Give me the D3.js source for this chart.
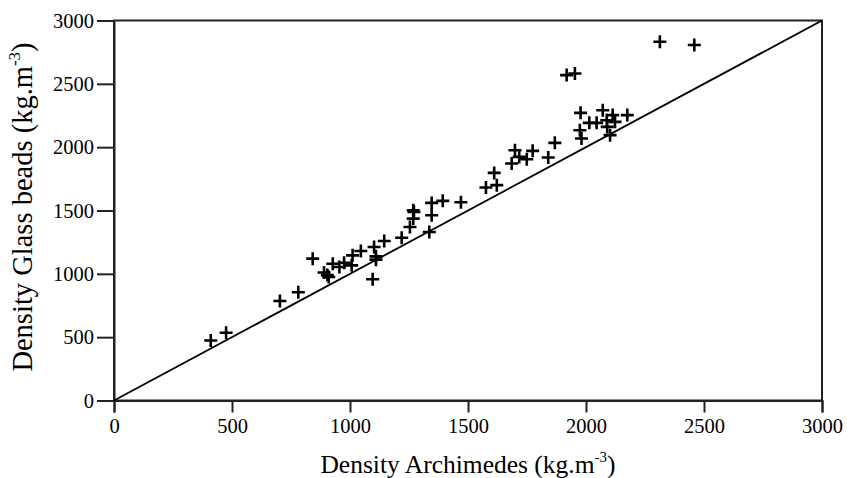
<!DOCTYPE html>
<html><head><meta charset="utf-8">
<script src="https://cdn.jsdelivr.net/npm/d3@7"></script>
<style>body{margin:0;background:#fff}svg{display:block}text{font-family:"Liberation Serif","Times New Roman",serif;fill:#000}</style>
</head><body>
<svg id="c" width="847" height="478"></svg>
<script>
const archimedes = [410,475,703,781,842,890,904,910,927,955,975,1007,1011,1046,1096,1102,1110,1110,1145,1219,1254,1268,1268,1271,1336,1346,1346,1393,1470,1576,1611,1622,1685,1699,1717,1749,1774,1840,1868,1918,1953,1974,1977,1981,2014,2045,2071,2088,2090,2102,2113,2123,2175,2313,2459];
const glassBeads = [474,535,785,855,1120,1010,990,975,1080,1054,1088,1067,1146,1180,957,1212,1138,1112,1259,1285,1370,1436,1502,1488,1330,1462,1560,1576,1565,1681,1797,1700,1871,1976,1923,1905,1971,1918,2034,2569,2582,2134,2271,2069,2192,2192,2292,2213,2160,2095,2253,2200,2253,2832,2806];
const xTicks = [0,500,1000,1500,2000,2500,3000];
const yTicks = [0,500,1000,1500,2000,2500,3000];
const xTitle = "Density Archimedes (kg.m";
const yTitle = "Density Glass beads (kg.m";

const svg = d3.select("#c");
const L=114, R=822, T=20.5, B=400.5;
const x = d3.scaleLinear().domain([0,3000]).range([L,R]);
const y = d3.scaleLinear().domain([0,3000]).range([B,T]);

svg.append("rect").attr("x",L).attr("y",T).attr("width",R-L).attr("height",B-T)
  .attr("fill","none").attr("stroke","#222").attr("stroke-width",2);

const xa = svg.append("g").attr("transform",`translate(0,${B})`)
  .call(d3.axisBottom(x).tickValues(xTicks).tickSize(12).tickPadding(6).tickFormat(d3.format("d")));
const ya = svg.append("g").attr("transform",`translate(${L},0)`)
  .call(d3.axisLeft(y).tickValues(yTicks).tickSize(17).tickPadding(3).tickFormat(d3.format("d")));
[xa,ya].forEach(a=>{
  a.select(".domain").attr("stroke","#222").attr("stroke-width",2);
  a.selectAll(".tick line").attr("stroke","#222").attr("stroke-width",2);
  a.selectAll("text").attr("font-size",20.5).attr("font-family",'"Liberation Serif",serif').attr("fill","#000");
});

svg.append("line").attr("x1",x(0)).attr("y1",y(0)).attr("x2",x(3000)).attr("y2",y(3000))
  .attr("stroke","#000").attr("stroke-width",1.8);

const pts = archimedes.map((a,i)=>[a,glassBeads[i]]);
svg.append("g").selectAll("path").data(pts).join("path")
  .attr("d","M-6.5,0H6.5M0,-6.5V6.5")
  .attr("transform",d=>`translate(${x(d[0])},${y(d[1])})`)
  .attr("stroke","#000").attr("stroke-width",2.6).attr("fill","none");

const xt = svg.append("text").attr("x",468).attr("y",473).attr("text-anchor","middle").attr("font-size",25.5);
xt.append("tspan").text(xTitle);
xt.append("tspan").attr("font-size",15).attr("dy",-11).text("-3");
xt.append("tspan").attr("dy",11).text(")");

const yt = svg.append("text").attr("transform",`translate(32,207) rotate(-90)`).attr("text-anchor","middle").attr("font-size",28.5);
yt.append("tspan").text(yTitle);
yt.append("tspan").attr("font-size",17).attr("dy",-12).text("-3");
yt.append("tspan").attr("dy",12).text(")");
</script>
</body></html>
